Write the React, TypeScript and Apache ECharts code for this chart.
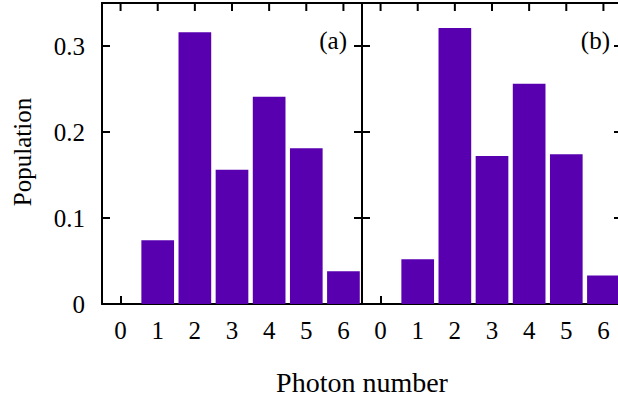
import React, { useEffect, useRef } from "react";
import * as echarts from "echarts";

const categories = ["0", "1", "2", "3", "4", "5", "6"];
const panelA = [0, 0.074, 0.316, 0.156, 0.241, 0.181, 0.038];
const panelB = [0, 0.052, 0.321, 0.172, 0.256, 0.174, 0.033];
const yMin = 0;
const yMax = 0.35;
const yInterval = 0.1;
const panelLabels = ["(a)", "(b)"];
const xTitle = "Photon number";
const yTitle = "Population";

const FONT = "Liberation Serif";
const FS = 25;
const BAR = "#5800b0";
const GRID_TOP = 3;
const GRID_H = 301;
const GRID_W = 260;
const GRID_LEFTS = [102, 362];

export default function App() {
  const ref = useRef<HTMLDivElement>(null);
  useEffect(() => {
    if (!ref.current) return;
    const chart = echarts.init(ref.current, null, { renderer: "svg" });
    const mkLine = () => ({ show: true, onZero: false, lineStyle: { color: "#000", width: 2 } });
    const mkTick = (align: boolean) => ({ show: true, inside: true, length: 8, alignWithLabel: align, lineStyle: { color: "#000", width: 2 } });
    const grids = GRID_LEFTS.map((left) => ({ left, top: GRID_TOP, width: GRID_W, height: GRID_H, outerBoundsMode: "none" }));
    const xAxis: any[] = [];
    const yAxis: any[] = [];
    grids.forEach((_, gi) => {
      xAxis.push({
        type: "category", gridIndex: gi, data: categories, position: "bottom",
        boundaryGap: true, axisLine: mkLine(), axisTick: mkTick(true),
        axisLabel: { color: "#000", fontFamily: FONT, fontSize: FS, margin: 14 },
        splitLine: { show: false },
      });
      yAxis.push({
        type: "value", gridIndex: gi, position: "left", min: yMin, max: yMax, interval: yInterval,
        axisLine: mkLine(), axisTick: mkTick(false), splitLine: { show: false },
        axisLabel: {
          show: gi === 0, color: "#000", fontFamily: FONT, fontSize: FS, margin: 17,
          showMaxLabel: false,
          formatter: (v: number) => (v > 0.31 ? "" : v === 0 ? "0" : v.toFixed(1)),
        },
      });
    });
    grids.forEach((_, gi) => {
      yAxis.push({
        type: "value", gridIndex: gi, position: "right", min: yMin, max: yMax, interval: yInterval,
        axisLine: mkLine(), axisTick: mkTick(false), splitLine: { show: false },
        axisLabel: { show: false },
      });
    });
    const mkSeries = (data: number[], gi: number) => ({
      type: "bar", xAxisIndex: gi, yAxisIndex: gi, data,
      barCategoryGap: "12%", itemStyle: { color: BAR }, z: 1,
    });

    // top frame line and top ticks, from the grid layout (category centres)
    const frame: any[] = [];
    GRID_LEFTS.forEach((left) => {
      const band = GRID_W / categories.length;
      frame.push({ type: "rect", silent: true, z: 10, shape: { x: left - 1, y: GRID_TOP - 1, width: GRID_W + 2, height: 2 }, style: { fill: "#000" } });
      categories.forEach((_c, i) => {
        frame.push({ type: "rect", silent: true, z: 10, shape: { x: left + band * (i + 0.5) - 1, y: GRID_TOP, width: 2, height: 8 }, style: { fill: "#000" } });
      });
    });

    chart.setOption({
      animation: false,
      grid: grids,
      xAxis, yAxis,
      series: [mkSeries(panelA, 0), mkSeries(panelB, 1)],
      graphic: [
        ...frame,
        { type: "text", x: 347, y: 40, style: { text: panelLabels[0], font: `${FS}px ${FONT}`, fill: "#000", align: "right", verticalAlign: "middle" } },
        { type: "text", x: 610, y: 40, style: { text: panelLabels[1], font: `${FS}px ${FONT}`, fill: "#000", align: "right", verticalAlign: "middle" } },
        { type: "text", x: 362, y: 382, style: { text: xTitle, font: `28px ${FONT}`, fill: "#000", align: "center", verticalAlign: "middle" } },
        { type: "text", x: 22, y: 152, rotation: Math.PI / 2, style: { text: yTitle, font: `${FS}px ${FONT}`, fill: "#000", align: "center", verticalAlign: "middle" } },
      ],
    });
    return () => chart.dispose();
  }, []);
  return <div ref={ref} style={{ position: "absolute", left: 0, top: 0, width: 618, height: 402 }} />;
}
